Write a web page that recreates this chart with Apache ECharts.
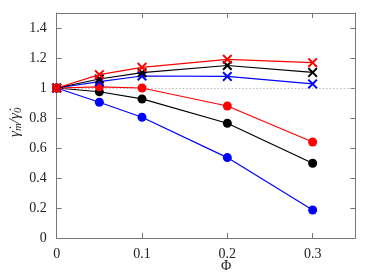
<!DOCTYPE html>
<html><head><meta charset="utf-8">
<script src="https://cdn.jsdelivr.net/npm/echarts@6/dist/echarts.min.js"></script>
<style>html,body{margin:0;padding:0;background:#fff}#c{width:374px;height:280px}</style>
</head><body><div id="c"></div>
<script>
var phi = [0, 0.05, 0.1, 0.2, 0.3];
var redCross   = [1.0, 1.089, 1.138, 1.191, 1.169];
var blackCross = [1.0, 1.060, 1.102, 1.150, 1.104];
var blueCross  = [1.0, 1.042, 1.080, 1.077, 1.027];
var redCircle   = [1.0, 1.008, 1.000, 0.880, 0.640];
var blackCircle = [1.0, 0.975, 0.927, 0.765, 0.498];
var blueCircle  = [1.0, 0.905, 0.805, 0.536, 0.187];
var xTicks = [0, 0.1, 0.2, 0.3];
var yTicks = [0, 0.2, 0.4, 0.6, 0.8, 1, 1.2, 1.4];

var FONT = 'Liberation Serif';
var CROSS = 'path://M0,1.4L1.4,0L5,3.6L8.6,0L10,1.4L6.4,5L10,8.6L8.6,10L5,6.4L1.4,10L0,8.6L3.6,5Z';
function pts(ys){ return phi.map(function(x,i){ return [x, ys[i]]; }); }
function fmt(v){ var r = Math.round(v*100)/100; return String(r); }
function isTick(list, v){ return list.some(function(t){ return Math.abs(t-v) < 1e-6; }); }

function ser(ys, color, sym, size, z){
  return {type:'line', data: pts(ys), symbol: sym, symbolSize: size, showSymbol:true,
    lineStyle:{color:color, width:1.2}, itemStyle:{color:color, borderWidth:0, opacity:1},
    z: z, animation:false, emphasis:{disabled:true}};
}
var chart = echarts.init(document.getElementById('c'), null, {renderer:'canvas'});
var axisLine = {show:true, onZero:false, lineStyle:{color:'#777', width:1}};
var tick = {show:true, inside:true, length:5, lineStyle:{color:'#777', width:1}};
var series = [
  {type:'line', data:[], markLine:{silent:true, symbol:'none', label:{show:false},
    lineStyle:{color:'#aaa', type:[1.5,2], width:0.8}, data:[{yAxis:1}], animation:false}},
  ser(blueCircle, '#0000ff', 'circle', 9, 3),
  ser(blackCircle, '#000000', 'circle', 9, 4),
  ser(redCircle, '#ff0000', 'circle', 9, 5),
  ser(blueCross, '#0000ff', CROSS, 10, 6),
  ser(blackCross, '#000000', CROSS, 10, 7),
  ser(redCross, '#ff0000', CROSS, 10, 8)
];
chart.setOption({
  animation:false,
  grid:{left:56.7, right:18.7, top:13, bottom:42, containLabel:false},
  xAxis:[
    {type:'value', min:0, max:0.35, interval:0.1, axisLine:axisLine, axisTick:tick, splitLine:{show:false},
     axisLabel:{fontFamily:FONT, fontSize:14, color:'#222', margin:9,
       formatter:function(v){ return isTick(xTicks, v) ? fmt(v) : ''; }}},
    {type:'value', position:'top', min:0, max:0.35, interval:0.1, axisLine:axisLine,
     axisTick:tick, axisLabel:{show:false}, splitLine:{show:false}}
  ],
  yAxis:[
    {type:'value', min:0, max:1.5, interval:0.2, axisLine:axisLine, axisTick:tick, splitLine:{show:false},
     axisLabel:{fontFamily:FONT, fontSize:14, color:'#222', margin:10,
       formatter:function(v){ return isTick(yTicks, v) ? fmt(v) : ''; }}},
    {type:'value', position:'right', min:0, max:1.5, interval:0.2, axisLine:axisLine,
     axisTick:tick, axisLabel:{show:false}, splitLine:{show:false}}
  ],
  series: series,
  graphic:[
    {type:'text', left:221, top:259, style:{text:'Φ', font:'14px "'+FONT+'"', fill:'#222'}},
    {type:'text', x:7, y:137, rotation:Math.PI/2, style:{
      text:'{a|γ̇}{s|m}{a|/γ̇}{s|0}', fill:'#222',
      rich:{a:{fontFamily:FONT, fontSize:15, fontStyle:'italic', fill:'#222'},
            s:{fontFamily:FONT, fontSize:11, fontStyle:'italic', fill:'#222', padding:[6,0,0,0]}}}}
  ]
});
</script></body></html>
